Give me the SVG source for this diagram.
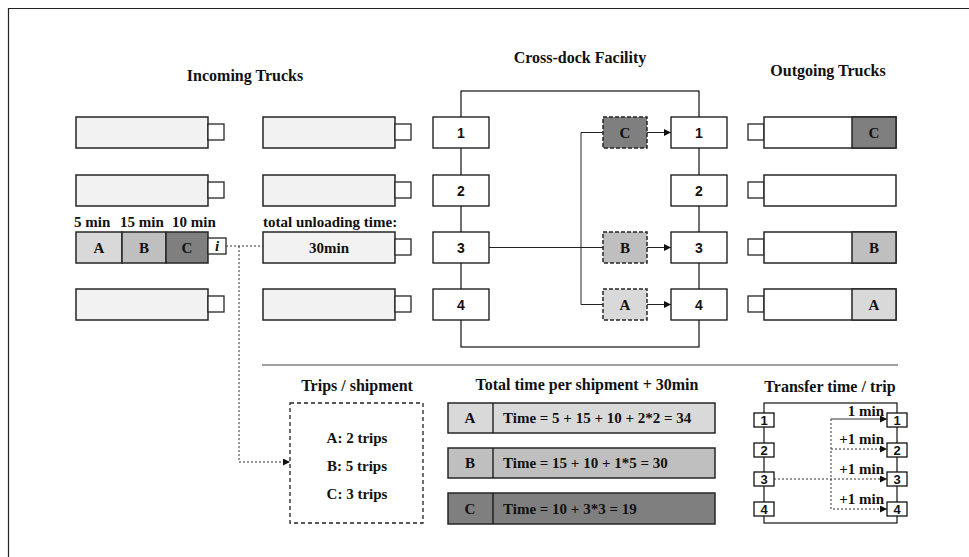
<svg xmlns="http://www.w3.org/2000/svg" width="969" height="557" viewBox="0 0 969 557">
<defs>
<style>
.t{font-family:"Liberation Serif","Times New Roman",serif;font-weight:bold;fill:#111;}
.title{font-size:16px;text-anchor:middle;}
.lbl{font-size:15px;}
.mid{text-anchor:middle;}
.num{font-family:"Liberation Sans",Arial,sans-serif;font-weight:bold;font-size:14px;text-anchor:middle;fill:#111;}
.sn{font-size:13px;}
.body{fill:#f2f2f2;stroke:#262626;stroke-width:1.5;}
.wb{fill:#fff;stroke:#262626;stroke-width:1.5;}
.cab{fill:#fff;stroke:#262626;stroke-width:1.3;}
.sa{fill:#d9d9d9;stroke:#262626;stroke-width:1.5;}
.sb{fill:#bfbfbf;stroke:#262626;stroke-width:1.5;}
.sc{fill:#7f7f7f;stroke:#262626;stroke-width:1.5;}
.dash{stroke-dasharray:4 2;}
.dock{fill:#fff;stroke:#111;stroke-width:1.3;}
.ln{fill:none;stroke:#111;stroke-width:1.2;}
.thin{fill:none;stroke:#222;stroke-width:1;}
.dot{fill:none;stroke:#333;stroke-width:1;stroke-dasharray:2 2;}
</style>
<marker id="ah" viewBox="0 0 10 10" refX="10" refY="5" markerWidth="8" markerHeight="7" markerUnits="userSpaceOnUse" orient="auto">
<path d="M0,0 L10,5 L0,10 z" fill="#111"/>
</marker>
</defs>
<rect x="0" y="0" width="969" height="557" fill="#fff"/>
<path d="M8.5,557 V8.5 H969" fill="none" stroke="#222" stroke-width="1.2"/>

<g id="titles">
<text class="t title" x="245" y="81">Incoming Trucks</text>
<text class="t title" x="580" y="63">Cross-dock Facility</text>
<text class="t title" x="828" y="76">Outgoing Trucks</text>
</g>

<g id="incoming-trucks">
<g id="in-1-1"><rect class="body" x="76" y="117" width="132" height="31"/><rect class="cab" x="208" y="124" width="16" height="16"/></g>
<g id="in-1-2"><rect class="body" x="76" y="175" width="132" height="31"/><rect class="cab" x="208" y="182" width="16" height="16"/></g>
<g id="in-1-3">
<rect class="sa" x="76" y="232" width="46" height="31"/>
<rect class="sb" x="122" y="232" width="44" height="31"/>
<rect class="sc" x="166" y="232" width="42" height="31"/>
<rect class="cab" x="208" y="238" width="18" height="16"/>
<text class="t lbl mid" x="99" y="253">A</text>
<text class="t lbl mid" x="144" y="253">B</text>
<text class="t lbl mid" x="187" y="253">C</text>
<text class="t mid" x="217" y="251" font-size="15" font-style="italic">i</text>
<text class="t lbl" x="74" y="227">5 min</text>
<text class="t lbl" x="120" y="227">15 min</text>
<text class="t lbl" x="172" y="227">10 min</text>
</g>
<g id="in-1-4"><rect class="body" x="76" y="289" width="132" height="31"/><rect class="cab" x="208" y="296" width="16" height="16"/></g>
<g id="in-2-1"><rect class="body" x="263" y="117" width="132" height="31"/><rect class="cab" x="395" y="124" width="16" height="16"/></g>
<g id="in-2-2"><rect class="body" x="263" y="175" width="132" height="31"/><rect class="cab" x="395" y="182" width="16" height="16"/></g>
<g id="in-2-3">
<rect class="body" x="263" y="232" width="132" height="31"/><rect class="cab" x="395" y="239" width="16" height="16"/>
<text class="t lbl mid" x="329" y="253">30min</text>
<text class="t lbl" x="263" y="227">total unloading time:</text>
</g>
<g id="in-2-4"><rect class="body" x="263" y="289" width="132" height="31"/><rect class="cab" x="395" y="296" width="16" height="16"/></g>
</g>

<g id="crossdock">
<rect class="ln" x="461" y="91" width="238" height="256"/>
<g id="ld1"><rect class="dock" x="433" y="117" width="56" height="31"/><text class="num" x="461" y="137.5">1</text></g>
<g id="ld2"><rect class="dock" x="433" y="175" width="56" height="31"/><text class="num" x="461" y="195.5">2</text></g>
<g id="ld3"><rect class="dock" x="433" y="232" width="56" height="31"/><text class="num" x="461" y="252.5">3</text></g>
<g id="ld4"><rect class="dock" x="433" y="289" width="56" height="31"/><text class="num" x="461" y="309.5">4</text></g>
<g id="rd1"><rect class="dock" x="671" y="117" width="56" height="31"/><text class="num" x="699" y="137.5">1</text></g>
<g id="rd2"><rect class="dock" x="671" y="175" width="56" height="31"/><text class="num" x="699" y="195.5">2</text></g>
<g id="rd3"><rect class="dock" x="671" y="232" width="56" height="31"/><text class="num" x="699" y="252.5">3</text></g>
<g id="rd4"><rect class="dock" x="671" y="289" width="56" height="31"/><text class="num" x="699" y="309.5">4</text></g>
<g id="shipC"><rect class="sc dash" x="603" y="117" width="44" height="31"/><text class="t lbl mid" x="625" y="138">C</text></g>
<g id="shipB"><rect class="sb dash" x="603" y="232" width="44" height="31"/><text class="t lbl mid" x="625" y="253">B</text></g>
<g id="shipA"><rect class="sa dash" x="603" y="289" width="44" height="31"/><text class="t lbl mid" x="625" y="310">A</text></g>
</g>

<g id="outgoing-trucks">
<g id="out-1"><rect class="cab" x="748" y="124" width="16" height="16"/><rect class="wb" x="764" y="117" width="132" height="31"/><rect class="sc" x="852" y="117" width="44" height="31"/><text class="t lbl mid" x="874" y="138">C</text></g>
<g id="out-2"><rect class="cab" x="748" y="182" width="16" height="16"/><rect class="wb" x="764" y="175" width="132" height="31"/></g>
<g id="out-3"><rect class="cab" x="748" y="239" width="16" height="16"/><rect class="wb" x="764" y="232" width="132" height="31"/><rect class="sb" x="852" y="232" width="44" height="31"/><text class="t lbl mid" x="874" y="253">B</text></g>
<g id="out-4"><rect class="cab" x="748" y="296" width="16" height="16"/><rect class="wb" x="764" y="289" width="132" height="31"/><rect class="sa" x="852" y="289" width="44" height="31"/><text class="t lbl mid" x="874" y="310">A</text></g>
</g>

<line x1="262" y1="365" x2="898" y2="365" stroke="#444" stroke-width="1.2"/>

<g id="trips">
<text class="t title" x="357" y="391">Trips / shipment</text>
<rect x="290" y="403" width="133" height="120" fill="#fff" stroke="#222" stroke-width="1.3" stroke-dasharray="4 3"/>
<text class="t lbl mid" x="357" y="443">A: 2 trips</text>
<text class="t lbl mid" x="357" y="471">B: 5 trips</text>
<text class="t lbl mid" x="357" y="499">C: 3 trips</text>
</g>

<g id="total-time">
<text class="t title" x="587" y="390">Total time per shipment + 30min</text>
<g id="tA"><rect class="sa" x="448" y="403" width="267" height="30"/><line x1="493" y1="403" x2="493" y2="433" stroke="#111" stroke-width="1.3"/><text class="t lbl mid" x="470" y="423">A</text><text class="t lbl" x="503" y="423">Time = 5 + 15 + 10 + 2*2 = 34</text></g>
<g id="tB"><rect class="sb" x="448" y="448" width="267" height="30"/><line x1="493" y1="448" x2="493" y2="478" stroke="#111" stroke-width="1.3"/><text class="t lbl mid" x="470" y="468">B</text><text class="t lbl" x="503" y="468">Time = 15 + 10 + 1*5 = 30</text></g>
<g id="tC"><rect class="sc" x="448" y="493" width="267" height="31"/><line x1="493" y1="493" x2="493" y2="524" stroke="#111" stroke-width="1.3"/><text class="t lbl mid" x="470" y="514">C</text><text class="t lbl" x="503" y="514">Time = 10 + 3*3 = 19</text></g>
</g>

<g id="transfer">
<text class="t title" x="830" y="392">Transfer time / trip</text>
<rect class="ln" x="764" y="403" width="133" height="120"/>
<g id="tl1"><rect class="dock" x="754" y="413" width="20" height="14"/><text class="num sn" x="764" y="425">1</text></g>
<g id="tl2"><rect class="dock" x="754" y="443" width="20" height="14"/><text class="num sn" x="764" y="455">2</text></g>
<g id="tl3"><rect class="dock" x="754" y="472" width="20" height="14"/><text class="num sn" x="764" y="484">3</text></g>
<g id="tl4"><rect class="dock" x="754" y="502" width="20" height="14"/><text class="num sn" x="764" y="514">4</text></g>
<g id="tr1"><rect class="dock" x="887" y="413" width="20" height="14"/><text class="num sn" x="897" y="425">1</text></g>
<g id="tr2"><rect class="dock" x="887" y="443" width="20" height="14"/><text class="num sn" x="897" y="455">2</text></g>
<g id="tr3"><rect class="dock" x="887" y="472" width="20" height="14"/><text class="num sn" x="897" y="484">3</text></g>
<g id="tr4"><rect class="dock" x="887" y="502" width="20" height="14"/><text class="num sn" x="897" y="514">4</text></g>
<text class="t lbl" x="884" y="416" text-anchor="end">1 min</text>
<text class="t lbl" x="884" y="444" text-anchor="end">+1 min</text>
<text class="t lbl" x="884" y="474" text-anchor="end">+1 min</text>
<text class="t lbl" x="884" y="504" text-anchor="end">+1 min</text>
</g>

<g id="connectors">
<path class="dot" d="M226,246 H263"/>
<path class="dot" d="M239,246 V462 H290" marker-end="url(#ah)"/>
<path class="thin" d="M489,247.5 H603"/>
<path class="thin" d="M603,132.5 H581 V304.5 H603"/>
<path class="thin" d="M647,132.5 H671" marker-end="url(#ah)"/>
<path class="thin" d="M647,247.5 H671" marker-end="url(#ah)"/>
<path class="thin" d="M647,304.5 H671" marker-end="url(#ah)"/>
<path class="dot" d="M774,479 H887" marker-end="url(#ah)"/>
<path class="dot" d="M887,419 H831 V509 H887" marker-end="url(#ah)"/>
<path class="dot" d="M831,449 H887" marker-end="url(#ah)"/>
<path class="dot" d="M831,419 H887" marker-end="url(#ah)"/>
</g>
</svg>
